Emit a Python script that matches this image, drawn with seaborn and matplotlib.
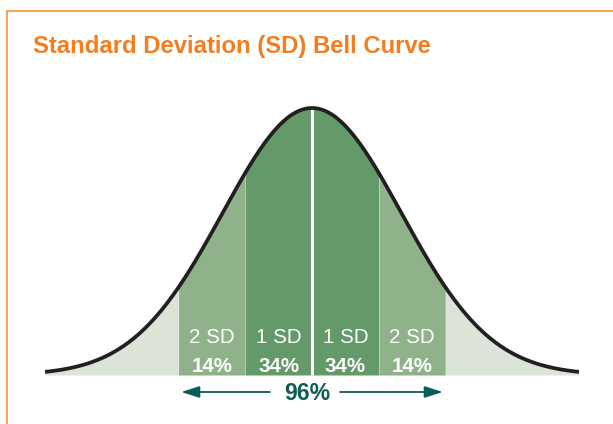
import numpy as np
import pandas as pd
import matplotlib
matplotlib.use("Agg")
import matplotlib.pyplot as plt
from matplotlib.lines import Line2D
import seaborn as sns

# ---------------- data ----------------
title = "Standard Deviation (SD) Bell Curve"
band_edges = [-4, -2, -1, 0, 1, 2, 4]          # SD units
band_kinds = ["tail", "sd2", "sd1", "sd1", "sd2", "tail"]
label_centers = [-1.5, -0.5, 0.5, 1.5]
sd_labels = ["2 SD", "1 SD", "1 SD", "2 SD"]
pct_labels = ["14%", "34%", "34%", "14%"]
total_label = "96%"
arrow_span = [-1.96, 1.96]
curve_mean = 0.0
curve_sd = 1.34          # drawn width of the bell in band units

# ---------------- style ----------------
sns.set_style("white")
plt.rcParams["font.family"] = ["Liberation Sans", "DejaVu Sans"]

colors = {"tail": "#dce4d7", "sd2": "#8fb28b", "sd1": "#64996a"}
orange = "#f47d20"
frame_orange = "#f7933c"
teal = "#0d5d55"
curve_color = "#231f20"

W, H = 613, 424
fig = plt.figure(figsize=(W / 100, H / 100), dpi=100)
ax = fig.add_axes([0, 0, 1, 1])

unit = 66.75     # px per SD unit
cx, base_px, peak_px = 312, 375, 108
hpx = base_px - peak_px
ax.set_xlim(-cx / unit, (W - cx) / unit)
ax.set_ylim((base_px - H) / hpx, base_px / hpx)
ax.axis("off")

x = np.linspace(band_edges[0], band_edges[-1], 801)
y = np.exp(-0.5 * ((x - curve_mean) / curve_sd) ** 2)
df = pd.DataFrame({"x": x, "y": y})

# band fills
for (a, b), kind in zip(zip(band_edges[:-1], band_edges[1:]), band_kinds):
    m = (x >= a) & (x <= b)
    ax.fill_between(x[m], 0, y[m], color=colors[kind], linewidth=0, zorder=1)
# subtle light separators
for e in [-2, -1, 1, 2]:
    ye = np.exp(-0.5 * ((e - curve_mean) / curve_sd) ** 2)
    ax.plot([e, e], [0, ye], color="white", alpha=0.25, lw=0.8, zorder=1.5)
# white centre line
ax.plot([curve_mean, curve_mean], [0, 1], color="white", lw=2.2, zorder=2)

# bell curve
sns.lineplot(data=df, x="x", y="y", ax=ax, color=curve_color, linewidth=2.7,
             sort=False, legend=False, zorder=3)
for ln in ax.lines:
    ln.set_solid_capstyle("butt")

# labels
def ypx(p):
    return (base_px - p) / hpx

for xc, s, p in zip(label_centers, sd_labels, pct_labels):
    ax.text(xc, ypx(343), s, color="white", fontsize=14.8, ha="center",
            va="baseline", zorder=4)
    ax.text(xc, ypx(371.5), p, color="white", fontsize=14.8, ha="center",
            va="baseline", fontweight="bold", zorder=4)

# 96% arrow
ay = ypx(392)
ax.text(-0.075, ypx(400), total_label, color=teal, fontsize=16.6,
        fontweight="bold", ha="center", va="baseline")
for start, end in [(-0.63, arrow_span[0]), (0.42, arrow_span[1])]:
    ax.annotate("", xy=(end, ay), xytext=(start, ay),
                arrowprops=dict(arrowstyle="-|>,head_length=1.1,head_width=0.35",
                                color=teal, lw=1.3, shrinkA=0, shrinkB=0,
                                mutation_scale=10))

# title
fig.text(33 / W, 1 - 52.5 / H, title, color=orange, fontsize=17.2,
         fontweight="bold", ha="left", va="baseline")

# orange frame (top and left edges)
fig.add_artist(Line2D([6.5 / W, 1], [1 - 11 / H, 1 - 11 / H],
                      color=frame_orange, lw=1.2, transform=fig.transFigure))
fig.add_artist(Line2D([6.5 / W, 6.5 / W], [0, 1 - 11 / H],
                      color=frame_orange, lw=1.2, transform=fig.transFigure))

fig.savefig("out.png", dpi=100, facecolor="white")
